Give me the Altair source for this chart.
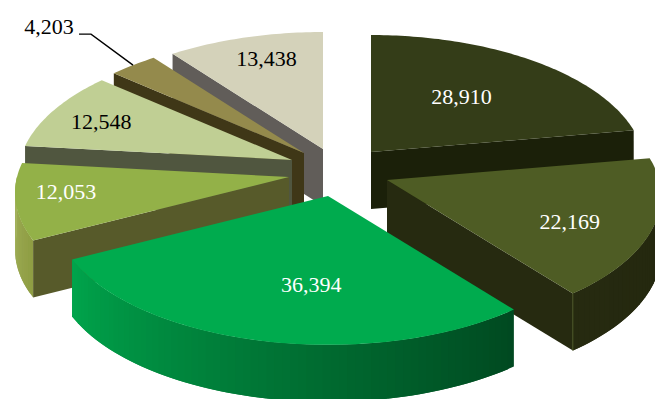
import math
import altair as alt
import pandas as pd

# Slice values, clockwise from twelve o'clock
values = [28910, 22169, 36394, 12053, 12548, 4203, 13438]
top_colors = ["#343d18", "#4e5c24", "#00ab4e", "#93b148", "#c0cf94", "#948a4c", "#d4d2ba"]
cut_colors = ["#1b2009", "#262a10", "#00802f", "#575a2a", "#50563f", "#3f3717", "#615d59"]
label_colors = ["white", "white", "white", "white", "black", "black", "black"]

# Shading of the curved outer wall: (angle, colour) stops for each slice that shows one
wall_stops = {
    1: [(80.0, "#23270e"), (142.0, "#262a10")],
    2: [(141.0, "#004820"), (180.0, "#006a30"), (215.0, "#008c40"), (243.0, "#00a54c")],
    3: [(242.0, "#8e9c42"), (270.0, "#a5b45e")],
}

# Pie geometry: axis radii, foreshortening, wall height
CENTER = (335.0, 165.0)
RX, RY, PERSP, DEPTH = 272.0, 131.0, 0.12, 57.0
# How far each slice is pulled out of the pie
explode = [(36, -13), (52, 15), (-7, 31), (-46, 12), (-43, -5), (-31, -12), (-12, -16)]
# Label anchors inside a slice: fraction of its sweep, fraction of its radius
label_at = [(0.48, 0.563), (0.57, 0.716), (0.43, 0.63), (0.577, 0.817), (0.467, 0.786), None, (0.55, 0.786)]
# Back slices are painted first
paint_order = [6, 5, 4, 3, 0, 1, 2]

total = sum(values)
angles = [0.0]
for v in values:
    angles.append(angles[-1] + 360.0 * v / total)


def apex(i):
    return (CENTER[0] + explode[i][0], CENTER[1] + explode[i][1])


def project(i, r, deg):
    a = math.radians(deg)
    x, y = math.sin(a), math.cos(a)
    w = 1 + PERSP * r * y
    ax, ay = apex(i)
    return [ax + RX * r * x / w, ay - RY * r * y / w]


def down(p):
    return [p[0], p[1] + DEPTH]


def hex_mix(c1, c2, t):
    a = [int(c1[k:k + 2], 16) for k in (1, 3, 5)]
    b = [int(c2[k:k + 2], 16) for k in (1, 3, 5)]
    return "#" + "".join(f"{round(p + (q - p) * t):02x}" for p, q in zip(a, b))


def shade(stops, deg):
    for (d1, c1), (d2, c2) in zip(stops, stops[1:]):
        if deg <= d2:
            return hex_mix(c1, c2, max(0.0, (deg - d1) / (d2 - d1)))
    return stops[-1][1]


def face(points, fill):
    ring = points + [points[0]]
    return {
        "type": "Feature",
        "properties": {"fill": fill},
        "geometry": {"type": "Polygon", "coordinates": [ring]},
    }


features = []
for i in paint_order:
    start, end = angles[i], angles[i + 1]
    # curved wall, only where it faces the viewer; each strip runs under the next one
    if i in wall_stops:
        lo, hi = max(start, 90.0), min(end, 270.0)
        n = max(1, int((hi - lo) / 1.5))
        step = (hi - lo) / n
        for k in range(n):
            d1 = lo + step * k
            d2 = min(hi, d1 + 2 * step)
            p1, p2 = project(i, 1, d1), project(i, 1, d2)
            features.append(face([p1, p2, down(p2), down(p1)], shade(wall_stops[i], d1 + step / 2)))
    # flat cut faces
    o = list(apex(i))
    if math.sin(math.radians(start)) < -1e-6:
        p = project(i, 1, start)
        features.append(face([o, p, down(p), down(o)], cut_colors[i]))
    if math.sin(math.radians(end)) > 1e-6:
        p = project(i, 1, end)
        features.append(face([o, p, down(p), down(o)], cut_colors[i]))
    # top surface
    steps = max(4, int(end - start))
    arc = [project(i, 1, start + (end - start) * k / steps) for k in range(steps + 1)]
    features.append(face([o] + arc, top_colors[i]))

identity = dict(type="identity", scale=1, translate=[0, 0])


def line_data(*paths):
    return alt.Data(
        values={"type": "FeatureCollection", "features": [
            {"type": "Feature", "properties": {},
             "geometry": {"type": "LineString", "coordinates": path}} for path in paths
        ]},
        format=alt.DataFormat(property="features", type="json"),
    )


faces = (
    alt.Chart(alt.Data(values={"type": "FeatureCollection", "features": features},
                       format=alt.DataFormat(property="features", type="json")))
    .mark_geoshape(strokeWidth=0)
    .encode(fill=alt.Fill("properties.fill:N", scale=None))
    .project(**identity)
)

# Thin highlight down the front corner of the second slice
corner = project(1, 1, angles[2])
highlight = (
    alt.Chart(line_data([corner, down(corner)]))
    .mark_geoshape(filled=False, stroke=top_colors[1], strokeWidth=0.8)
    .project(**identity)
)

# Leader from the small slice out to its label
small = 5
tip = project(small, 1, (angles[small] + angles[small + 1]) / 2)
knee = [tip[0] - 42, tip[1] - 31]
tail = [knee[0] - 12, knee[1]]
leader = (
    alt.Chart(line_data([tip, knee, tail]))
    .mark_geoshape(filled=False, stroke="black", strokeWidth=1.4)
    .project(**identity)
)

rows = []
for i, v in enumerate(values):
    if label_at[i] is None:
        pos = [tail[0] - 30, tail[1] - 7]
    else:
        frac, r = label_at[i]
        pos = project(i, r, angles[i] + (angles[i + 1] - angles[i]) * frac)
    rows.append({"lon": pos[0], "lat": pos[1], "label": f"{v:,}", "ink": label_colors[i]})

labels = (
    alt.Chart(pd.DataFrame(rows))
    .mark_text(font="Liberation Serif", fontSize=22, align="center", baseline="middle")
    .encode(
        longitude="lon:Q",
        latitude="lat:Q",
        text="label:N",
        color=alt.Color("ink:N", scale=None),
    )
    .project(**identity)
)

chart = (
    alt.layer(faces, highlight, leader, labels)
    .properties(width=655, height=399, padding=0, autosize=alt.AutoSizeParams(type="none"), background="white")
    .configure_view(stroke=None)
)

chart.save("out.html", embed_options={"renderer": "svg", "actions": False})
